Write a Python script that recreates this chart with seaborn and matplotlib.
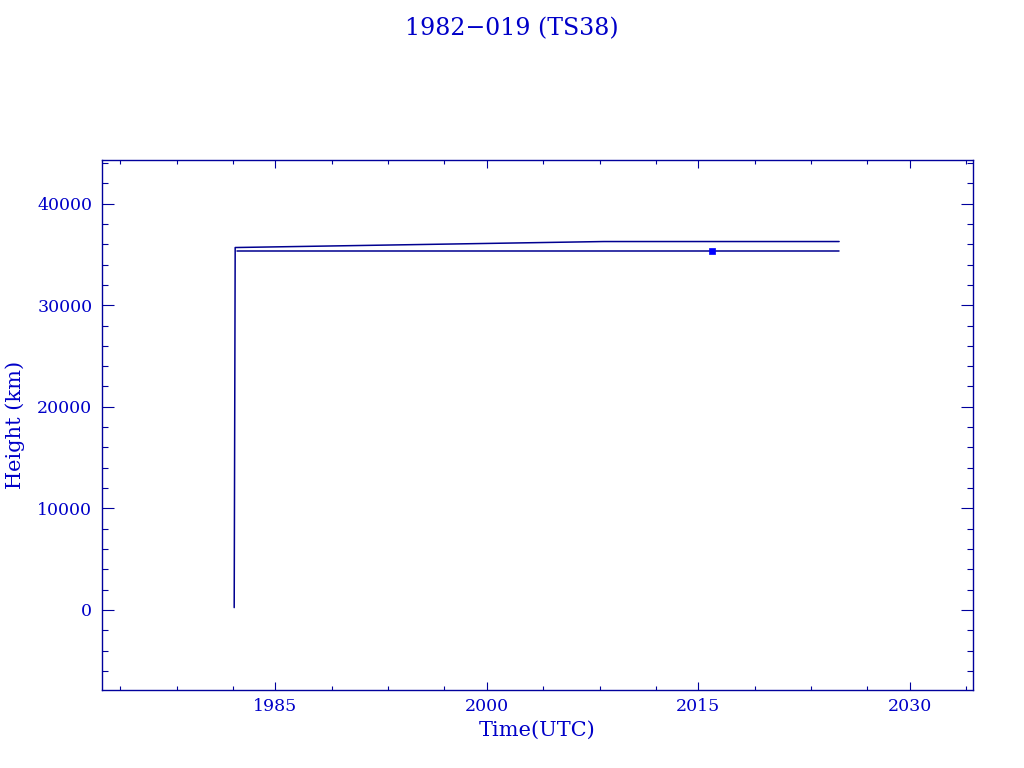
import matplotlib
matplotlib.use("Agg")
import matplotlib.pyplot as plt
import seaborn as sns
import pandas as pd

# -------------------------------
# Data
# -------------------------------
apogee_year = [1982.08, 1982.15, 2008.3, 2025.0]
apogee_km = [230, 35680, 36270, 36270]

perigee_year = [1982.25, 2025.0]
perigee_km = [35370, 35370]

marker_year = [2016.0]
marker_km = [35370]

x_major = [1985, 2000, 2015, 2030]
x_minor = [1974, 1978, 1982, 1989, 1993, 1997, 2004, 2008, 2012, 2019, 2023, 2027, 2034]
y_major = [0, 10000, 20000, 30000, 40000]

title = "1982\u2212019 (TS38)"

text_col = "#0000C8"
line_col = "#000090"
frame_col = "#00009C"

sns.set_style("white")
plt.rcParams["font.family"] = ["DejaVu Serif"]

apo = pd.DataFrame({"year": apogee_year, "km": apogee_km})
peri = pd.DataFrame({"year": perigee_year, "km": perigee_km})
mark = pd.DataFrame({"year": marker_year, "km": marker_km})

fig = plt.figure(figsize=(10.24, 7.68), dpi=100)
ax = fig.add_axes([0.0996, 0.1016, 0.8506, 0.6901])

sns.lineplot(data=apo, x="year", y="km", ax=ax, sort=False, estimator=None,
             color=line_col, linewidth=1.1)
sns.lineplot(data=peri, x="year", y="km", ax=ax, sort=False, estimator=None,
             color=line_col, linewidth=1.1)
sns.scatterplot(data=mark, x="year", y="km", ax=ax, marker="s", s=22,
                color="#0000FF", edgecolor="#0000FF", linewidth=0.5, zorder=5)

ax.set_xlim(1972.7, 2034.5)
ax.set_ylim(-7880, 44300)

ax.set_xticks(x_major)
ax.set_xticks(x_minor, minor=True)
ax.set_xticklabels([str(v) for v in x_major])
ax.set_yticks(y_major)
ax.set_yticks(list(range(-6000, 44001, 2000)), minor=True)
ax.set_yticklabels([str(v) for v in y_major])

for s in ax.spines.values():
    s.set_color(frame_col)
    s.set_linewidth(1.0)

ax.tick_params(axis="both", which="both", direction="in",
               bottom=True, top=True, left=True, right=True,
               colors=frame_col, labelcolor=text_col, width=0.8, labelsize=12.5)
ax.tick_params(axis="x", which="major", length=5.8, pad=6)
ax.tick_params(axis="x", which="minor", length=2.9)
ax.tick_params(axis="y", which="major", length=8.6, pad=7)
ax.tick_params(axis="y", which="minor", length=4.3)

ax.set_xlabel("Time(UTC)", color=text_col, fontsize=15, labelpad=4)
ax.set_ylabel("Height (km)", color=text_col, fontsize=15, labelpad=9)

fig.text(0.5, 0.962, title, ha="center", va="center", color=text_col, fontsize=17)

fig.savefig("out.png", dpi=100)
